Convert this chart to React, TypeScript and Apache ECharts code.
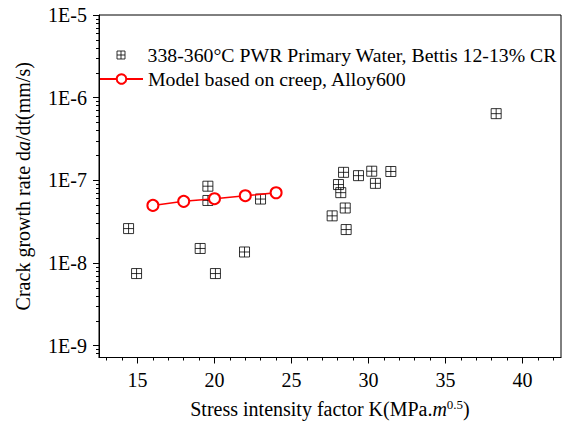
import React, { useEffect, useRef } from 'react';
import * as echarts from 'echarts';

const scatterName = '338-360°C PWR Primary Water, Bettis 12-13% CR';
const modelName = 'Model based on creep, Alloy600';

const bettisK = [14.42, 14.94, 19.07, 19.57, 19.57, 20.06, 21.95, 22.99, 27.64, 28.05, 28.2, 28.38, 28.49, 28.55, 29.35, 30.21, 30.45, 31.45, 38.29];
const bettisRate = [2.61e-8, 7.46e-9, 1.5e-8, 8.5e-8, 5.71e-8, 7.46e-9, 1.36e-8, 5.94e-8, 3.72e-8, 8.9e-8, 7.1e-8, 1.25e-7, 4.63e-8, 2.54e-8, 1.14e-7, 1.29e-7, 9.2e-8, 1.28e-7, 6.41e-7];

const modelK = [16, 18, 20, 22, 24];
const modelRate = [4.98e-8, 5.57e-8, 6.0e-8, 6.52e-8, 7.08e-8];

const xMajorTicks = [15, 20, 25, 30, 35, 40];
const xMinorTicks = [13, 14, 16, 17, 18, 19, 21, 22, 23, 24, 26, 27, 28, 29, 31, 32, 33, 34, 36, 37, 38, 39, 41, 42];
const yMajorTicks = [1e-9, 1e-8, 1e-7, 1e-6, 1e-5];
const yMinorMultipliers = [2, 3, 4, 5, 6, 7, 8, 9];
const yMinorTicks: number[] = [8e-10, 9e-10];
[1e-9, 1e-8, 1e-7, 1e-6].forEach((d) => yMinorMultipliers.forEach((m) => yMinorTicks.push(+(m * d).toPrecision(3))));

const FONT = 'Liberation Serif';
const SQUARE = 'path://M0,0H10V10H0Z M5,0V10 M0,5H10';
// legend icon: same square, centred in a 43x8 box (tiny end segments fix the box extent)
const SQUARE_LEGEND = 'path://M0,0L0.01,0 M43,8L42.99,8 M17.5,0H25.5V8H17.5Z M21.5,0V8 M17.5,4H25.5';

export default function App() {
  const ref = useRef<HTMLDivElement>(null);
  useEffect(() => {
    if (!ref.current) return;
    const chart = echarts.init(ref.current, null, { renderer: 'svg' });
    const axisLineStyle = { color: '#000', width: 1 };
    chart.setOption({
      animation: false,
      backgroundColor: '#fff',
      grid: { left: 99, right: 5, top: 15, bottom: 64, show: true, borderColor: '#000', borderWidth: 1 },
      legend: [
        {
          data: [{ name: scatterName, icon: SQUARE_LEGEND, itemStyle: { color: 'rgba(0,0,0,0)', borderColor: '#000', borderWidth: 1 } }],
          left: 99,
          top: 45,
          padding: 0,
          itemWidth: 43,
          itemHeight: 8,
          textStyle: { fontFamily: FONT, fontSize: 19.8, color: '#000' },
        },
        {
          data: [modelName],
          left: 99,
          top: 69,
          padding: 0,
          itemWidth: 43,
          itemHeight: 12,
          textStyle: { fontFamily: FONT, fontSize: 19.8, color: '#000' },
        },
      ],
      xAxis: [
        {
          type: 'value',
          min: 12.5,
          max: 42.5,
          position: 'bottom',
          axisLine: { lineStyle: axisLineStyle },
          axisTick: { customValues: xMajorTicks, length: 6, lineStyle: axisLineStyle },
          axisLabel: { customValues: xMajorTicks, fontFamily: FONT, fontSize: 20, color: '#000', margin: 12 },
          splitLine: { show: false },
          name: 'Stress intensity factor K(MPa.{i|m}{s|0.5})',
          nameLocation: 'middle',
          nameGap: 40,
          nameTextStyle: {
            fontFamily: FONT,
            fontSize: 20,
            color: '#000',
            rich: {
              i: { fontFamily: FONT, fontSize: 20, fontStyle: 'italic', color: '#000' },
              s: { fontFamily: FONT, fontSize: 13, color: '#000', verticalAlign: 'top', padding: [0, 0, 10, 0] },
            },
          },
        },
        {
          type: 'value',
          min: 12.5,
          max: 42.5,
          position: 'bottom',
          axisLine: { show: false },
          axisTick: { customValues: xMinorTicks, length: 3, lineStyle: axisLineStyle },
          axisLabel: { show: false },
          splitLine: { show: false },
        },
      ],
      yAxis: [
        {
          type: 'log',
          min: 7.2e-10,
          max: 1e-5,
          position: 'left',
          axisLine: { show: true, lineStyle: axisLineStyle },
          axisTick: { show: true, customValues: yMajorTicks, length: 6, lineStyle: axisLineStyle },
          axisLabel: {
            customValues: yMajorTicks,
            fontFamily: FONT,
            fontSize: 20,
            color: '#000',
            margin: 12,
            formatter: (v: number) => '1E' + Math.round(Math.log10(v)),
          },
          splitLine: { show: false },
          name: 'Crack growth rate d{i|a}/dt(mm/s)',
          nameLocation: 'middle',
          nameGap: 66,
          nameTextStyle: {
            fontFamily: FONT,
            fontSize: 20,
            color: '#000',
            rich: {
              i: { fontFamily: FONT, fontSize: 20, fontStyle: 'italic', color: '#000' },
            },
          },
        },
        {
          type: 'log',
          min: 7.2e-10,
          max: 1e-5,
          position: 'left',
          axisLine: { show: false },
          axisTick: { show: true, customValues: yMinorTicks, length: 3, lineStyle: axisLineStyle },
          axisLabel: { show: false },
          splitLine: { show: false },
        },
      ],
      series: [
        {
          name: scatterName,
          type: 'scatter',
          xAxisIndex: 0,
          yAxisIndex: 0,
          symbol: SQUARE,
          symbolSize: 10,
          itemStyle: { color: 'rgba(0,0,0,0)', borderColor: '#000', borderWidth: 1 },
          data: bettisK.map((k, i) => [k, bettisRate[i]]),
        },
        {
          name: modelName,
          type: 'line',
          xAxisIndex: 0,
          yAxisIndex: 0,
          symbol: 'emptyCircle',
          symbolSize: 11,
          lineStyle: { color: '#ff0000', width: 1.5 },
          itemStyle: { color: '#ff0000', borderWidth: 1 },
          data: modelK.map((k, i) => [k, modelRate[i]]),
        },
      ],
    });
    return () => chart.dispose();
  }, []);
  return <div ref={ref} style={{ position: 'fixed', left: 0, top: 0, width: 566, height: 424 }} />;
}
